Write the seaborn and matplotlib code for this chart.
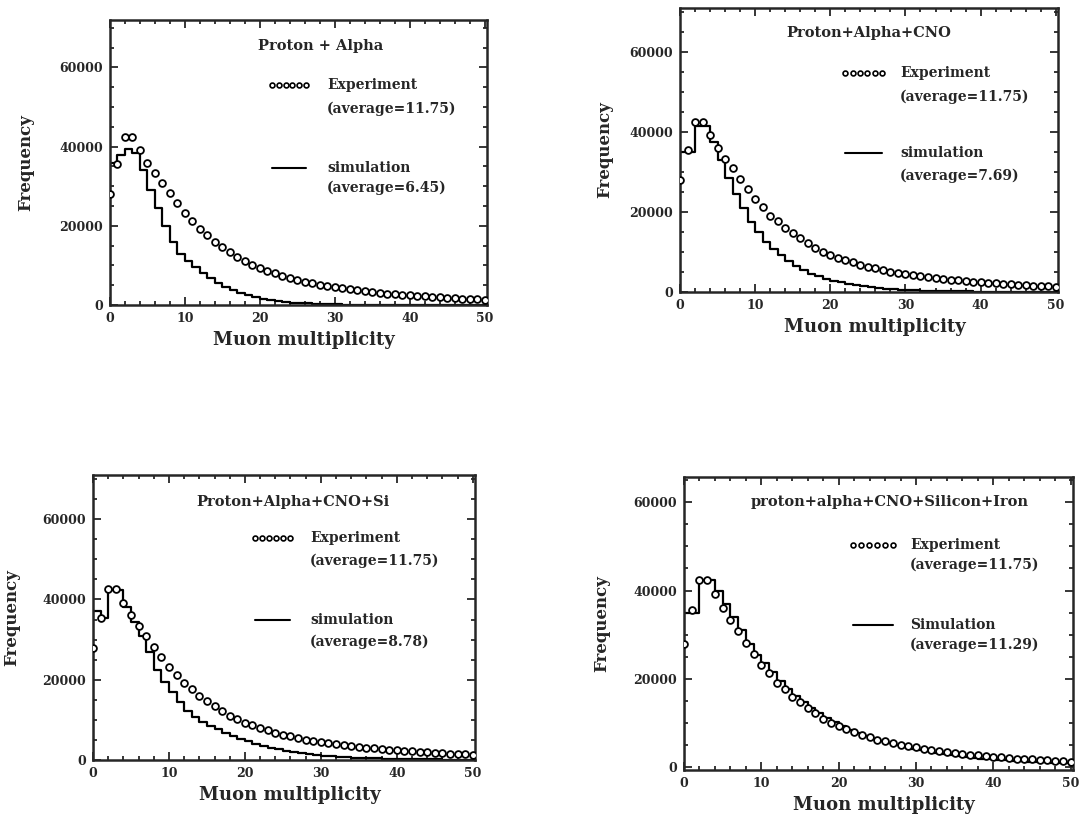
import numpy as np
import pandas as pd
import matplotlib
matplotlib.use("Agg")
import matplotlib.pyplot as plt
from matplotlib.ticker import MultipleLocator
import seaborn as sns

sns.set_style("ticks")
plt.rcParams['font.family'] = ['DejaVu Serif']
plt.rcParams['font.weight'] = 'bold'

# ---------------- data ----------------
# Experiment (same in all panels), multiplicity 0..50
exp_x = list(range(0, 51))
exp_y = [28000, 35500, 42500, 42500, 39200, 36000, 33300, 30900, 28200, 25700,
         23200, 21300, 19100, 17700, 16000, 14700, 13500, 12200, 11000, 10100,
         9300, 8600, 8000, 7400, 6800, 6300, 5900, 5500, 5100, 4800,
         4500, 4200, 3950, 3700, 3500, 3300, 3100, 2900, 2750, 2600,
         2450, 2300, 2150, 2000, 1900, 1800, 1700, 1600, 1500, 1400, 1300]

# Simulation histograms, bins [k, k+1), k = 0..49
sim_pa = [36000, 38000, 39500, 38500, 34000, 29000, 24500, 20000, 16000, 13000,
          11000, 9500, 8000, 6700, 5500, 4500, 3700, 3000, 2500, 2000,
          1600, 1300, 1000, 800, 600, 500, 400, 300, 250, 200,
          150, 120, 100, 80, 60, 50, 40, 30, 20, 20,
          10, 10, 10, 0, 0, 0, 0, 0, 0, 0]
sim_pac = [35000, 35000, 41500, 41500, 37500, 33000, 28500, 24500, 21000, 17500,
           15000, 12500, 10800, 9200, 7800, 6500, 5500, 4600, 3900, 3300,
           2800, 2400, 2000, 1700, 1400, 1200, 1000, 850, 700, 600,
           500, 430, 370, 320, 270, 230, 190, 160, 130, 110,
           100, 80, 60, 50, 40, 30, 20, 10, 0, 0]
sim_pacs = [37000, 35500, 42300, 42300, 38000, 34500, 31000, 27000, 22500, 19500,
            17000, 14500, 12300, 10800, 9500, 8500, 7600, 6800, 6000, 5300,
            4700, 4100, 3600, 3100, 2700, 2300, 2000, 1750, 1500, 1300,
            1100, 950, 800, 700, 600, 500, 450, 400, 350, 300,
            260, 230, 200, 180, 160, 140, 120, 110, 100, 100]
sim_all = [35000, 35000, 42400, 42400, 39800, 37000, 34000, 31000, 28000, 25500,
           23500, 21500, 19500, 17800, 16200, 14800, 13500, 12300, 11200, 10200,
           9300, 8500, 7800, 7100, 6500, 6000, 5500, 5000, 4600, 4200,
           3900, 3600, 3300, 3000, 2800, 2600, 2400, 2200, 2000, 1900,
           1750, 1600, 1500, 1400, 1300, 1200, 1100, 1000, 950, 900]

titles = ["Proton + Alpha", "Proton+Alpha+CNO", "Proton+Alpha+CNO+Si",
          "proton+alpha+CNO+Silicon+Iron"]
sim_names = ["simulation", "simulation", "simulation", "Simulation"]
exp_avg = "(average=11.75)"
sim_avgs = ["(average=6.45)", "(average=7.69)", "(average=8.78)", "(average=11.29)"]
sims = [sim_pa, sim_pac, sim_pacs, sim_all]

# ---------------- layout ----------------
W, H = 1081, 819
fig = plt.figure(figsize=(W / 100, H / 100), dpi=100)
# (left, right, top, bottom) in pixels
boxes = [(110, 487, 20, 305), (680, 1058, 8, 292), (93, 475, 475, 760), (684, 1073, 477, 770)]
ylims = [(0, 72000), (0, 71000), (0, 71000), (-600, 65700)]
ylab_x = [-0.20, -0.177, -0.19, -0.19]
leg = [
    dict(tx=0.56, ty=0.91, sx0=0.43, sx1=0.52, ey=0.772, txx=0.576, e1=0.772, e2=0.69, sy=0.48, s1=0.48, s2=0.41),
    dict(tx=0.50, ty=0.912, sx0=0.437, sx1=0.534, ey=0.77, txx=0.582, e1=0.77, e2=0.686, sy=0.49, s1=0.49, s2=0.41),
    dict(tx=0.524, ty=0.905, sx0=0.424, sx1=0.516, ey=0.779, txx=0.568, e1=0.779, e2=0.70, sy=0.49, s1=0.49, s2=0.414),
    dict(tx=0.53, ty=0.915, sx0=0.435, sx1=0.537, ey=0.768, txx=0.581, e1=0.768, e2=0.70, sy=0.495, s1=0.495, s2=0.427),
]

exp_df = pd.DataFrame({"x": exp_x, "y": exp_y})

for i in range(4):
    l, r, t, b = boxes[i]
    ax = fig.add_axes([l / W, 1 - b / H, (r - l) / W, (b - t) / H])
    sim = sims[i]
    sx = [0] + list(range(0, 51))
    sy = [0] + sim + [sim[-1]]
    sim_df = pd.DataFrame({"x": sx, "y": sy})
    sns.lineplot(data=sim_df, x="x", y="y", ax=ax, estimator=None, sort=False,
                 drawstyle="steps-post", color="black", lw=1.6)
    sns.scatterplot(data=exp_df, x="x", y="y", ax=ax, marker="o", s=24,
                    facecolor="white", edgecolor="black", linewidth=1.3, zorder=3)

    ax.set_xlim(0, 50.3)
    ax.set_ylim(*ylims[i])
    ax.set_xticks([0, 10, 20, 30, 40, 50])
    ax.set_yticks([0, 20000, 40000, 60000])
    ax.xaxis.set_minor_locator(MultipleLocator(2))
    ax.yaxis.set_minor_locator(MultipleLocator(5000))
    ax.tick_params(which="both", direction="in", top=True, right=True, width=1.3,
                   labelsize=9, pad=5)
    ax.tick_params(which="major", length=6)
    ax.tick_params(which="minor", length=3)
    for sp in ax.spines.values():
        sp.set_linewidth(1.8)
    for lab in ax.get_xticklabels() + ax.get_yticklabels():
        lab.set_fontweight("bold")

    ax.set_xlabel("Muon multiplicity", fontsize=13, fontweight="bold")
    ax.set_ylabel("Frequency", fontsize=12, fontweight="bold")
    ax.xaxis.set_label_coords(0.515, -0.09)
    ax.yaxis.set_label_coords(ylab_x[i], 0.5)

    g = leg[i]
    ax.text(g["tx"], g["ty"], titles[i], transform=ax.transAxes, ha="center",
            va="center", fontsize=10.5, fontweight="bold")
    # legend: experiment
    ax.plot(np.linspace(g["sx0"], g["sx1"], 6), [g["ey"]] * 6, transform=ax.transAxes,
            ls="none", marker="o", ms=3.5, mfc="white", mec="black", mew=1.2)
    ax.text(g["txx"], g["e1"], "Experiment", transform=ax.transAxes, ha="left",
            va="center", fontsize=10, fontweight="bold")
    ax.text(g["txx"], g["e2"], exp_avg, transform=ax.transAxes, ha="left",
            va="center", fontsize=10, fontweight="bold")
    # legend: simulation
    ax.plot([g["sx0"], g["sx1"]], [g["sy"], g["sy"]], transform=ax.transAxes,
            color="black", lw=1.5)
    ax.text(g["txx"], g["s1"], sim_names[i], transform=ax.transAxes, ha="left",
            va="center", fontsize=10, fontweight="bold")
    ax.text(g["txx"], g["s2"], sim_avgs[i], transform=ax.transAxes, ha="left",
            va="center", fontsize=10, fontweight="bold")

fig.savefig("out.png", dpi=100, facecolor="white")
